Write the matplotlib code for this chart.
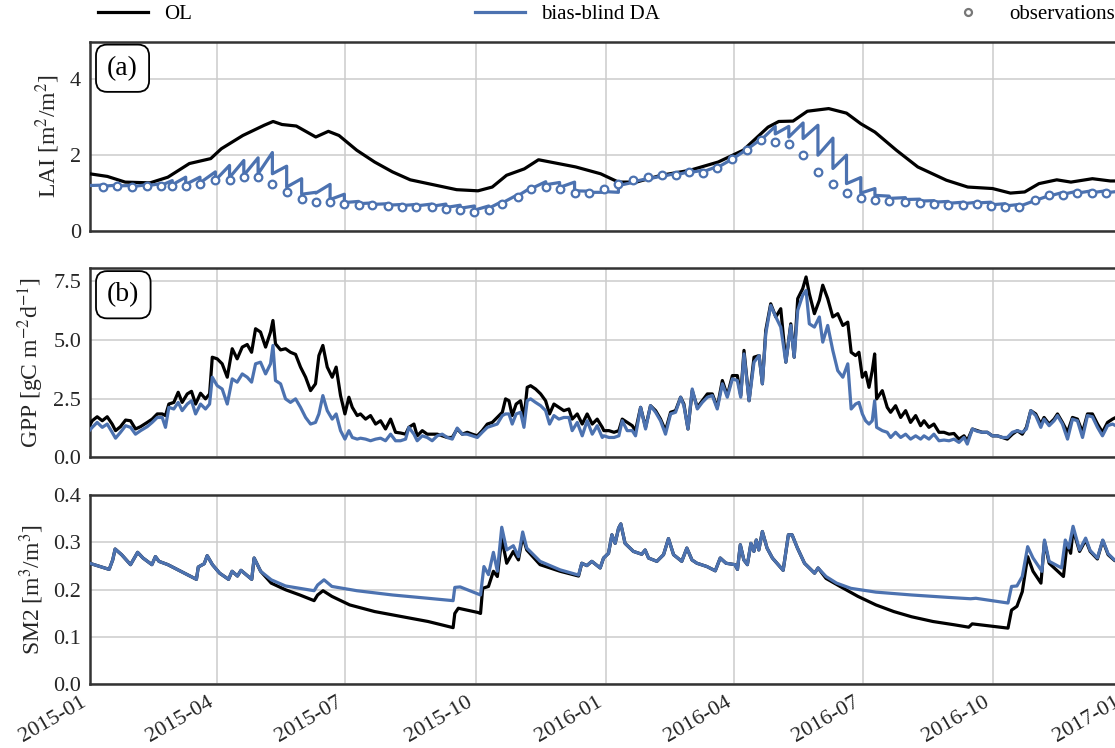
import matplotlib
matplotlib.use("Agg")
import matplotlib.pyplot as plt
import matplotlib.dates as mdates
from matplotlib.lines import Line2D
import numpy as np
import pandas as pd

START = pd.Timestamp("2015-01-01")
END = pd.Timestamp("2017-01-01")

OL_COLOR = "black"
DA_COLOR = "#4c72b0"

# ---- (a) LAI, days since 2015-01-01 ----
lai_ol_days = [0, 12.6, 25.2, 42.8, 55.4, 70.6, 85.7, 93.2, 108.4, 123.5, 129.8, 136.1,
               146.2, 160.0, 168.9, 176.4, 189.0, 201.6, 214.2, 226.8, 239.4, 259.6,
               274.7, 284.8, 294.9, 307.5, 317.5, 328.6, 343.8, 361.4, 374.0, 386.6,
               404.2, 424.4, 444.6, 462.2, 479.8, 487.4, 497.5, 507.6, 522.7, 535.3,
               545.4, 555.4, 570.6, 585.7, 605.9, 621.0, 638.6, 651.2, 661.3, 671.4,
               684.0, 694.0, 709.2, 721.8, 731]
lai_ol = [1.51, 1.44, 1.29, 1.27, 1.42, 1.78, 1.91, 2.17, 2.52, 2.79, 2.89, 2.81,
          2.77, 2.48, 2.63, 2.52, 2.13, 1.82, 1.56, 1.35, 1.25, 1.09,
          1.06, 1.16, 1.47, 1.64, 1.88, 1.80, 1.69, 1.51, 1.29, 1.29,
          1.47, 1.60, 1.82, 2.13, 2.74, 2.89, 2.90, 3.16, 3.23, 3.11,
          2.83, 2.61, 2.13, 1.69, 1.34, 1.16, 1.12, 1.00, 1.03, 1.25,
          1.35, 1.29, 1.38, 1.32, 1.32]

lai_obs_days = [9.3, 19.4, 30.2, 40.3, 50.4, 58.5, 68.0, 78.1, 89.0, 99.0, 109.1, 119.2,
                129.3, 139.4, 150.0, 160.0, 170.1, 180.2, 190.3, 199.8, 211.2, 221.0,
                230.6, 241.9, 252.0, 262.1, 272.2, 282.3, 291.8, 302.9, 312.5, 322.6,
                332.4, 343.0, 353.1, 363.9, 374.0, 384.1, 394.6, 404.7, 414.8, 423.6,
                433.7, 443.8, 454.6, 464.7, 474.8, 484.9, 494.5, 504.6, 515.1, 525.7,
                535.3, 545.4, 555.4, 565.5, 576.9, 587.0, 597.1, 607.2, 618.0, 627.8,
                637.4, 647.4, 657.5, 668.3, 678.4, 688.5, 698.6, 708.7, 718.8]
lai_obs = [1.16, 1.19, 1.16, 1.19, 1.19, 1.19, 1.20, 1.25, 1.34, 1.35, 1.42, 1.42,
           1.25, 1.03, 0.85, 0.77, 0.77, 0.72, 0.68, 0.68, 0.65, 0.63,
           0.63, 0.62, 0.59, 0.56, 0.50, 0.56, 0.70, 0.90, 1.10, 1.16,
           1.10, 0.99, 0.99, 1.10, 1.23, 1.35, 1.42, 1.47, 1.49, 1.56,
           1.54, 1.67, 1.91, 2.15, 2.39, 2.35, 2.29, 2.00, 1.56, 1.23,
           1.00, 0.88, 0.83, 0.79, 0.77, 0.74, 0.72, 0.69, 0.68, 0.72,
           0.66, 0.62, 0.63, 0.81, 0.94, 0.94, 0.99, 0.99, 0.99]
# DA forecast just before and analysis just after each observation
lai_da_pre = [1.21, 1.21, 1.20, 1.22, 1.25, 1.33, 1.42, 1.42, 1.56, 1.73, 1.86, 1.93,
              2.07, 1.71, 1.38, 1.02, 1.23, 0.97, 0.78, 0.74, 0.72, 0.70,
              0.70, 0.71, 0.71, 0.68, 0.66, 0.66, 0.78, 0.96, 1.15, 1.30,
              1.28, 1.29, 1.05, 1.02, 1.02, 1.28, 1.38, 1.45, 1.52, 1.56,
              1.60, 1.70, 1.90, 2.15, 2.42, 2.76, 2.76, 2.85, 2.79, 2.45,
              2.00, 1.41, 1.12, 0.92, 0.88, 0.84, 0.80, 0.78, 0.76, 0.76,
              0.76, 0.72, 0.70, 0.80, 0.93, 1.02, 1.05, 1.06, 1.06]
lai_da_post = [1.18, 1.19, 1.17, 1.19, 1.20, 1.22, 1.23, 1.27, 1.34, 1.41, 1.47, 1.51,
               1.51, 1.16, 0.97, 1.00, 0.83, 0.75, 0.72, 0.70, 0.68, 0.67,
               0.66, 0.65, 0.62, 0.60, 0.55, 0.60, 0.74, 0.93, 1.12, 1.22,
               1.15, 1.06, 1.02, 1.04, 1.20, 1.30, 1.37, 1.44, 1.48, 1.54,
               1.56, 1.67, 1.90, 2.15, 2.40, 2.56, 2.48, 2.44, 2.00, 1.65,
               1.25, 1.00, 0.94, 0.86, 0.83, 0.79, 0.76, 0.73, 0.72, 0.74,
               0.69, 0.66, 0.65, 0.80, 0.92, 0.97, 1.00, 1.01, 1.01]
lai_da_ends_days = [0, 731]
lai_da_ends = [1.20, 1.06]

# ---- (b) GPP ----
gpp_days = [0, 1.9, 5.4, 9.0, 12.5, 16.0, 18.4, 21.9, 25.5, 29.0, 32.5, 36.1, 40.8, 44.3,
            47.9, 51.4, 53.7, 56.1, 59.6, 62.7, 65.5, 69.1, 72.1, 75.0, 78.5, 82.0, 84.9,
            86.8, 90.3, 93.8, 97.4, 100.9, 104.4, 108.0, 111.5, 114.6, 117.4, 120.9,
            124.5, 128.0, 129.7, 131.5, 135.1, 138.6, 142.1, 145.7, 149.2, 152.8, 156.3,
            159.8, 162.2, 165.0, 168.1, 171.6, 174.4, 177.5, 180.6, 183.4,
            185.8, 189.3, 191.6, 195.2, 198.7, 202.3, 205.8, 209.3, 212.9, 216.4, 219.9,
            223.5, 225.8, 229.4, 231.7, 235.3, 238.8, 242.3, 245.9, 249.4, 253.0, 256.5,
            260.0, 263.6, 267.1, 270.6, 274.2, 277.7, 281.3, 284.8, 288.3, 291.9, 294.2,
            296.6, 298.9, 301.7, 304.8, 307.2, 309.5, 311.9, 315.4, 319.0, 322.5, 325.3,
            328.4, 331.9, 335.4, 339.0, 341.3, 344.9, 348.4, 351.9, 355.5, 359.0, 362.6,
            363.7, 367.3, 370.9, 374.3, 376.7, 380.2, 383.8, 386.1, 389.7, 393.2, 396.7,
            400.3, 403.8, 407.3, 410.9, 414.4, 418.0, 420.3, 423.2, 426.2, 429.8, 433.3,
            436.9, 440.4, 443.9, 447.5, 451.0, 454.6, 458.1, 460.5, 462.8, 466.4, 469.9,
            473.5, 475.8, 478.2, 481.7, 485.3, 488.8, 492.4, 495.9, 498.3, 500.8, 504.3,
            506.7, 509.0, 512.6, 516.1, 518.5, 522.0, 525.6, 529.1, 532.7, 536.2, 538.6,
            541.7, 544.1, 546.5, 548.8, 551.2, 553.5, 555.2, 556.6, 560.6, 564.1, 566.5,
            570.0, 573.6, 577.1, 580.6, 584.2, 587.7, 590.1, 593.6, 597.1, 600.7, 604.2,
            607.8, 611.3, 614.8, 618.4, 620.7, 624.3, 627.8, 631.3, 634.9, 638.4, 642.0,
            645.5, 649.0, 652.6, 656.1, 659.6, 662.5, 665.6, 669.1, 672.7, 675.0, 678.6,
            682.1, 684.5, 688.0, 691.6, 695.1, 698.6, 702.2, 705.7, 709.2, 712.8, 716.3,
            719.9, 723.4, 725.7, 731]
gpp_ol = [1.35, 1.56, 1.73, 1.56, 1.73, 1.42, 1.14, 1.31, 1.59, 1.56, 1.21, 1.31, 1.49, 1.63,
          1.85, 1.85, 1.78, 2.27, 2.34, 2.77, 2.34, 2.70, 2.81, 2.27, 2.73, 2.49, 2.70,
          4.26, 4.19, 3.98, 3.41, 4.62, 4.19, 4.69, 4.80, 4.47, 5.47, 5.33,
          4.69, 5.33, 5.82, 4.83, 4.57, 4.62, 4.47, 4.38, 3.84, 3.41, 2.84,
          3.13, 4.33, 4.76, 3.84, 3.41, 3.84, 2.63, 1.85, 2.56,
          2.13, 1.78, 1.85, 1.63, 1.78, 1.42, 1.56, 1.21, 1.63, 1.07, 1.04,
          0.99, 1.28, 1.42, 0.92, 1.14, 0.99, 0.99, 0.99, 0.92, 0.85, 0.85,
          1.21, 0.99, 1.07, 0.99, 0.92, 1.14, 1.42, 1.49, 1.70, 1.92, 2.49,
          2.41, 1.78, 2.27, 2.41, 1.63, 2.98, 3.05, 2.91, 2.70, 2.41, 1.85,
          2.27, 2.13, 1.99, 2.06, 1.63, 1.85, 1.42, 1.85, 1.42, 1.63, 1.28,
          1.14, 1.14, 1.07, 1.14, 1.63, 1.49, 1.35, 1.14, 2.13, 1.28, 2.20,
          1.99, 1.63, 1.14, 1.92, 1.99, 2.56, 2.27, 1.21, 2.84, 2.13, 2.41,
          2.70, 2.70, 2.13, 3.27, 2.63, 3.48, 3.48, 2.63, 4.55, 2.41, 4.26,
          4.33, 3.13, 5.40, 6.53, 5.97, 6.32, 4.05, 5.68, 4.26, 6.75, 7.17,
          7.67, 6.96, 6.11, 6.68, 7.32, 6.75, 5.97, 6.11, 5.61, 5.75, 4.47,
          4.33, 4.47, 3.41, 3.62, 2.98, 3.69, 4.40, 2.49, 2.84, 2.13, 1.92,
          2.20, 1.70, 1.99, 1.49, 1.78, 1.35, 1.56, 1.28, 1.42, 1.07, 1.07,
          0.99, 1.02, 0.78, 0.92, 0.71, 1.21, 1.14, 1.07, 1.07, 0.92, 0.92,
          0.85, 0.78, 0.99, 1.14, 0.99, 1.28, 1.99, 1.85, 1.42, 1.70, 1.42,
          1.63, 1.85, 1.49, 1.07, 1.70, 1.63, 1.07, 1.85, 1.85, 1.42, 1.07,
          1.49, 1.63, 1.70, 1.55]
gpp_da = [1.15, 1.28, 1.49, 1.28, 1.42, 1.07, 0.82, 1.07, 1.35, 1.28, 0.99, 1.14, 1.31, 1.49,
          1.70, 1.70, 1.28, 2.13, 2.06, 2.34, 1.99, 2.27, 2.41, 1.85, 2.27, 2.06, 2.27,
          3.41, 3.05, 2.91, 2.27, 3.34, 3.20, 3.55, 3.41, 3.20, 3.98, 4.05,
          3.55, 3.98, 4.76, 3.27, 3.13, 2.49, 2.34, 2.49, 2.13, 1.70, 1.42,
          1.49, 1.85, 2.63, 1.99, 1.63, 1.85, 1.14, 0.78, 1.14,
          0.85, 0.78, 0.82, 0.78, 0.71, 0.78, 0.82, 0.71, 0.99, 0.71, 0.71,
          0.78, 1.28, 0.99, 0.71, 0.92, 0.85, 0.71, 0.92, 0.99, 0.85, 0.78,
          1.25, 0.99, 0.99, 0.92, 0.85, 1.07, 1.28, 1.35, 1.42, 1.78, 1.85,
          1.85, 1.42, 1.85, 1.92, 1.28, 2.41, 2.49, 2.34, 2.20, 1.99, 1.42,
          1.78, 1.63, 1.70, 1.70, 1.14, 1.49, 0.92, 1.56, 0.99, 1.35, 0.85,
          0.92, 0.85, 0.85, 0.92, 1.56, 1.14, 1.14, 0.92, 2.13, 1.21, 2.20,
          1.92, 1.56, 0.99, 1.85, 1.92, 2.56, 2.20, 1.21, 2.91, 2.06, 2.34,
          2.56, 2.63, 2.06, 3.13, 2.56, 3.34, 3.27, 2.56, 4.40, 2.41, 4.05,
          4.33, 3.13, 5.26, 6.46, 5.97, 5.54, 4.05, 5.61, 4.26, 6.25, 6.89,
          7.10, 5.68, 5.54, 5.97, 4.90, 5.61, 4.55, 3.69, 3.41, 3.98, 2.06,
          2.27, 2.34, 1.85, 1.56, 1.42, 1.56, 2.41, 1.28, 1.14, 1.07, 0.85,
          1.07, 0.85, 0.99, 0.78, 0.92, 0.78, 0.92, 0.78, 0.99, 0.71, 0.74,
          0.71, 0.78, 0.64, 0.85, 0.57, 1.21, 1.11, 1.07, 1.07, 0.92, 0.92,
          0.85, 0.85, 1.07, 1.14, 1.07, 1.21, 1.99, 1.78, 1.28, 1.63, 1.35,
          1.56, 1.78, 1.42, 0.78, 1.63, 1.56, 0.85, 1.78, 1.73, 1.28, 0.92,
          1.35, 1.42, 1.35, 1.40]

# ---- (c) SM2 ----
sm_da_days = [0, 13.9, 16.4, 18.1, 22.7, 29.0, 34.0, 37.8, 44.1, 46.6, 49.1, 55.4, 75.6,
              76.9, 81.1, 83.2, 86.9, 92.0, 98.3, 100.8, 104.6, 107.1, 114.7, 116.4, 121.0,
              128.5, 138.6, 158.8, 161.3, 165.8, 171.4, 189.0, 214.2, 239.4, 257.1, 258.3,
              262.1, 276.5, 278.9, 282.1, 285.6, 288.4, 291.5, 295.0, 299.7, 303.3, 306.3,
              309.2, 318.6, 332.8, 345.8, 348.1, 351.7, 355.2, 361.1, 363.5, 367.0, 369.4,
              371.7, 374.1, 375.7, 378.7, 384.6, 390.5, 392.9, 395.3, 401.2, 405.9, 409.4,
              413.0, 418.8, 422.4, 426.0, 429.5, 436.6, 442.5, 446.0, 450.1, 456.4, 458.2,
              460.2, 462.7, 465.2, 467.7, 469.8, 471.5, 473.3, 475.8, 479.1, 482.9, 490.5,
              494.2, 496.8, 500.6, 505.6, 512.7, 515.2, 520.8, 528.3, 538.4, 556.1, 581.3,
              606.6, 623.0, 626.8, 649.5, 652.0, 655.8, 659.6, 663.4, 667.2, 673.5, 675.3,
              678.6, 687.4, 690.0, 692.5, 695.5, 700.1, 704.4, 707.6, 712.7, 716.5, 720.3,
              724.8, 731]
sm_da = [0.256, 0.243, 0.263, 0.286, 0.274, 0.253, 0.279, 0.267, 0.253, 0.270, 0.260, 0.253, 0.222,
         0.248, 0.255, 0.272, 0.253, 0.235, 0.222, 0.239, 0.229, 0.241, 0.222, 0.267, 0.239,
         0.221, 0.208, 0.198, 0.210, 0.221, 0.207, 0.198, 0.189, 0.182, 0.177, 0.205,
         0.206, 0.189, 0.249, 0.232, 0.279, 0.239, 0.332, 0.284, 0.293, 0.270, 0.322,
         0.288, 0.260, 0.242, 0.231, 0.256, 0.251, 0.260, 0.246, 0.267, 0.277, 0.316,
         0.298, 0.330, 0.339, 0.298, 0.281, 0.275, 0.284, 0.267, 0.260, 0.274, 0.308,
         0.274, 0.260, 0.288, 0.263, 0.256, 0.249, 0.240, 0.267, 0.256, 0.253, 0.243,
         0.295, 0.263, 0.253, 0.298, 0.281, 0.305, 0.284, 0.323, 0.288, 0.267, 0.241,
         0.316, 0.316, 0.288, 0.256, 0.235, 0.246, 0.228, 0.214, 0.203, 0.195, 0.189,
         0.184, 0.181, 0.182, 0.172, 0.207, 0.208, 0.228, 0.291, 0.267, 0.239, 0.305,
         0.260, 0.246, 0.305, 0.288, 0.334, 0.284, 0.309, 0.283, 0.267, 0.305, 0.276,
         0.263, 0.255]
# OL departs from DA in two dry spells; elsewhere the two coincide
sm_ol_dry1_days = [121.0, 128.5, 138.6, 148.7, 158.8, 161.3, 165.1, 171.4, 184.0, 201.6, 214.2,
                   226.8, 239.4, 257.1, 258.3, 260.8, 274.7, 276.5, 278.0, 282.1, 285.6, 288.4,
                   291.5, 295.0, 299.7, 303.3, 306.3, 309.2, 318.6, 332.8, 345.8]
sm_ol_dry1 = [0.239, 0.214, 0.200, 0.189, 0.177, 0.189, 0.198, 0.186, 0.168, 0.154, 0.147,
              0.140, 0.133, 0.120, 0.150, 0.161, 0.152, 0.150, 0.203, 0.207, 0.239, 0.228,
              0.309, 0.256, 0.281, 0.263, 0.313, 0.284, 0.253, 0.239, 0.229]
sm_ol_dry2_days = [520.8, 530.8, 543.4, 556.1, 568.7, 581.3, 596.4, 611.6, 621.7, 624.2, 649.5,
                   652.0, 655.8, 659.6, 663.4, 667.2, 672.8, 675.3, 678.6, 688.7, 691.3, 693.8,
                   695.5, 700.1, 704.4, 707.6, 712.7, 716.5, 720.3, 724.8, 731]
sm_ol_dry2 = [0.224, 0.207, 0.186, 0.168, 0.154, 0.143, 0.133, 0.126, 0.121, 0.128, 0.119,
              0.157, 0.165, 0.196, 0.270, 0.239, 0.214, 0.302, 0.256, 0.228, 0.298, 0.277,
              0.327, 0.281, 0.305, 0.281, 0.265, 0.304, 0.274, 0.262, 0.254]


def to_dates(days):
    return START + pd.to_timedelta(np.asarray(days, dtype=float), unit="D")


# sawtooth DA LAI: forecast -> analysis jump at each observation
da_days = [lai_da_ends_days[0]]
da_vals = [lai_da_ends[0]]
for d, pre, post in zip(lai_obs_days, lai_da_pre, lai_da_post):
    da_days += [d, d]
    da_vals += [pre, post]
da_days.append(lai_da_ends_days[1])
da_vals.append(lai_da_ends[1])

sm_da_s = pd.Series(sm_da, index=sm_da_days)
sm_ol_s = pd.concat([
    sm_da_s[sm_da_s.index < sm_ol_dry1_days[0]],
    pd.Series(sm_ol_dry1, index=sm_ol_dry1_days),
    sm_da_s[(sm_da_s.index > sm_ol_dry1_days[-1]) & (sm_da_s.index < sm_ol_dry2_days[0])],
    pd.Series(sm_ol_dry2, index=sm_ol_dry2_days),
])

plt.rcParams.update({
    "font.family": ["Liberation Serif", "DejaVu Serif"],
    "mathtext.fontset": "stix",
    "font.size": 15,
    "axes.labelsize": 17,
    "xtick.labelsize": 16,
    "ytick.labelsize": 16,
    "axes.edgecolor": "#333333",
    "axes.linewidth": 1.8,
    "grid.color": "#cccccc",
    "grid.linewidth": 1.1,
    "xtick.color": "#333333",
    "ytick.color": "#333333",
    "xtick.labelcolor": "#262626",
    "ytick.labelcolor": "#262626",
    "axes.labelcolor": "#262626",
})

fig = plt.figure(figsize=(11.15, 7.48), dpi=100)
left, width, height = 0.0803, 0.9271, 0.2533
bottoms = [0.6912, 0.3884, 0.0849]
axes = [fig.add_axes([left, b, width, height]) for b in bottoms]
ax_a, ax_b, ax_c = axes

lw = 2.3
ax_a.plot(to_dates(lai_ol_days), lai_ol, color=OL_COLOR, lw=lw, zorder=3)
ax_a.plot(to_dates(da_days), da_vals, color=DA_COLOR, lw=lw, zorder=4)
ax_a.plot(to_dates(lai_obs_days), lai_obs, ls="none", marker="o", ms=5.5, mew=1.6,
          mfc="white", mec=DA_COLOR, zorder=5)
ax_a.set_ylim(0, 5)
ax_a.set_yticks([0, 2, 4])
ax_a.set_ylabel("LAI [m$^2$/m$^2$]", labelpad=6)

ax_b.plot(to_dates(gpp_days), gpp_ol, color=OL_COLOR, lw=lw, zorder=3)
ax_b.plot(to_dates(gpp_days), gpp_da, color=DA_COLOR, lw=lw, zorder=4)
ax_b.set_ylim(0, 8.05)
ax_b.set_yticks([0, 2.5, 5.0, 7.5])
ax_b.set_yticklabels(["0.0", "2.5", "5.0", "7.5"])
ax_b.set_ylabel("GPP [gC m$^{-2}$d$^{-1}$]", labelpad=5)

ax_c.plot(to_dates(sm_ol_s.index), sm_ol_s.values, color=OL_COLOR, lw=lw, zorder=3)
ax_c.plot(to_dates(sm_da_s.index), sm_da_s.values, color=DA_COLOR, lw=lw, zorder=4)
ax_c.set_ylim(0, 0.4)
ax_c.set_yticks([0.0, 0.1, 0.2, 0.3, 0.4])
ax_c.set_yticklabels(["0.0", "0.1", "0.2", "0.3", "0.4"])
ax_c.set_ylabel("SM2 [m$^3$/m$^3$]", labelpad=5)

for ax in axes:
    ax.set_xlim(START, END)
    ax.xaxis.set_major_locator(mdates.MonthLocator(bymonth=[1, 4, 7, 10]))
    ax.xaxis.set_major_formatter(mdates.DateFormatter("%Y-%m"))
    ax.grid(True, zorder=0)
    ax.set_axisbelow(True)
    ax.tick_params(length=0, pad=6)
for ax in (ax_a, ax_b):
    ax.tick_params(labelbottom=False)
for lab in ax_c.get_xticklabels():
    lab.set_rotation(30)
    lab.set_ha("right")

for ax, tag in ((ax_a, "(a)"), (ax_b, "(b)")):
    ax.text(0.017, 0.925, tag, transform=ax.transAxes, ha="left", va="top", fontsize=20,
            zorder=6, bbox=dict(boxstyle="round,pad=0.4", fc="white", ec="black", lw=1.3))

handles = [
    Line2D([], [], color=OL_COLOR, lw=lw),
    Line2D([], [], color=DA_COLOR, lw=lw),
    Line2D([], [], ls="none", marker="o", ms=5, mew=1.6, mfc="white", mec="#777777"),
]
fig.legend(handles, ["OL", "bias-blind DA", "observations"], loc="center",
           bbox_to_anchor=(left, 0.962, width, 0.038), mode="expand", ncol=3,
           frameon=False, handlelength=2.4, borderaxespad=0)

fig.savefig("out.png", dpi=100)
